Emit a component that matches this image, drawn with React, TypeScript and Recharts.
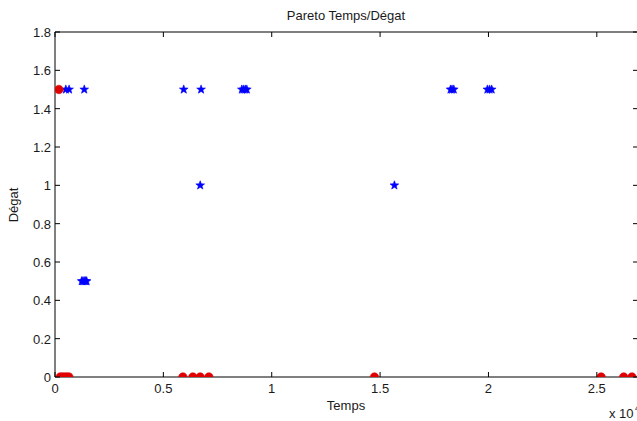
import React from "react";
import { ScatterChart, Scatter, XAxis, YAxis } from "recharts";

const paretoTemps = [0.018, 0.024, 0.034, 0.044, 0.054, 0.064, 0.59, 0.636, 0.67, 0.71, 1.474, 2.52, 2.624, 2.662];
const paretoDegat = [1.5, 0, 0, 0, 0, 0, 0, 0, 0, 0, 0, 0, 0, 0];

const allTemps = [0.05, 0.065, 0.135, 0.594, 0.674, 0.862, 0.87, 0.878, 0.885, 1.825, 1.832, 1.84, 1.995, 2.005, 2.015, 0.67, 1.566, 0.123, 0.129, 0.135, 0.141, 0.146];
const allDegat = [1.5, 1.5, 1.5, 1.5, 1.5, 1.5, 1.5, 1.5, 1.5, 1.5, 1.5, 1.5, 1.5, 1.5, 1.5, 1, 1, 0.5, 0.5, 0.5, 0.5, 0.5];

const xTicks = [0, 0.5, 1, 1.5, 2, 2.5];
const xTickLabels = ["0", "0.5", "1", "1.5", "2", "2.5"];
const yTicks = [0, 0.2, 0.4, 0.6, 0.8, 1, 1.2, 1.4, 1.6, 1.8];
const yTickLabels = ["0", "0.2", "0.4", "0.6", "0.8", "1", "1.2", "1.4", "1.6", "1.8"];

const title = "Pareto Temps/Dégat";
const xLabel = "Temps";
const yLabel = "Dégat";
const xExp = "x 10";
const xExpPow = "4";

const pareto = paretoTemps.map((t, i) => ({ t, d: paretoDegat[i] }));
const all = allTemps.map((t, i) => ({ t, d: allDegat[i] }));

const FONT = "'Liberation Sans', Arial, Helvetica, sans-serif";
const TXT = "#1a1a1a";

const labelFor = (v: number, ticks: number[], labels: string[]) => {
  const i = ticks.findIndex((t) => Math.abs(t - v) < 1e-9);
  return i >= 0 ? labels[i] : String(v);
};

const BottomTick = (p: any) => {
  const { x, y, payload } = p;
  return (
    <g>
      <line x1={x} x2={x} y1={y} y2={y - 5} stroke="#000" strokeWidth={1} />
      <text x={x} y={y + 16} textAnchor="middle" fontSize={13} fontFamily={FONT} fill={TXT}>
        {labelFor(payload.value, xTicks, xTickLabels)}
      </text>
    </g>
  );
};
const TopTick = (p: any) => {
  const { x, y } = p;
  return <line x1={x} x2={x} y1={y} y2={y + 5} stroke="#000" strokeWidth={1} />;
};
const LeftTick = (p: any) => {
  const { x, y, payload } = p;
  return (
    <g>
      <line x1={x} x2={x + 5} y1={y} y2={y} stroke="#000" strokeWidth={1} />
      <text x={x - 4} y={y + 5} textAnchor="end" fontSize={13} fontFamily={FONT} fill={TXT}>
        {labelFor(payload.value, yTicks, yTickLabels)}
      </text>
    </g>
  );
};
const RightTick = (p: any) => {
  const { x, y } = p;
  return <line x1={x - 5} x2={x} y1={y} y2={y} stroke="#000" strokeWidth={1} />;
};

const Dot = (p: any) => {
  const { cx, cy } = p;
  if (cx == null || cy == null) return null;
  return <circle cx={cx} cy={cy} r={4.3} fill="#e00000" stroke="#e00000" strokeWidth={0.5} />;
};
const Star = (p: any) => {
  const { cx, cy } = p;
  if (cx == null || cy == null) return null;
  const pts: string[] = [];
  for (let k = 0; k < 10; k++) {
    const r = k % 2 === 0 ? 4.6 : 1.9;
    const a = -Math.PI / 2 + (k * Math.PI) / 5;
    pts.push(`${cx + r * Math.cos(a)},${cy + r * Math.sin(a)}`);
  }
  return <polygon points={pts.join(" ")} fill="#0000ff" stroke="#0000ff" strokeWidth={0.6} />;
};

export default function App() {
  return (
    <div style={{ position: "fixed", left: 0, top: 0, width: 637, height: 421, overflow: "hidden", background: "#fff" }}>
      <ScatterChart width={660} height={421} margin={{ top: 31, right: 12, bottom: 14, left: 15 }}>
        <XAxis
          dataKey="t"
          type="number"
          domain={[0, 2.69]}
          ticks={xTicks}
          allowDataOverflow
          height={30}
          tickSize={0}
          tickMargin={0}
          tickLine={false}
          axisLine={{ stroke: "#000" }}
          tick={BottomTick}
          interval={0}
        />
        <XAxis
          xAxisId="top"
          orientation="top"
          dataKey="t"
          type="number"
          domain={[0, 2.69]}
          ticks={xTicks}
          allowDataOverflow
          height={1}
          tickSize={0}
          tickMargin={0}
          tickLine={false}
          axisLine={{ stroke: "#000" }}
          tick={TopTick}
          interval={0}
        />
        <YAxis
          dataKey="d"
          type="number"
          domain={[0, 1.8]}
          ticks={yTicks}
          allowDataOverflow
          width={40}
          tickSize={0}
          tickMargin={0}
          tickLine={false}
          axisLine={{ stroke: "#000" }}
          tick={LeftTick}
          interval={0}
        />
        <YAxis
          yAxisId="right"
          orientation="right"
          dataKey="d"
          type="number"
          domain={[0, 1.8]}
          ticks={yTicks}
          allowDataOverflow
          width={10}
          tickSize={0}
          tickMargin={0}
          tickLine={false}
          axisLine={{ stroke: "#000" }}
          tick={RightTick}
          interval={0}
        />
        <Scatter data={all} shape={Star} isAnimationActive={false} />
        <Scatter data={pareto} shape={Dot} isAnimationActive={false} />
      </ScatterChart>
      <svg width={637} height={421} style={{ position: "absolute", left: 0, top: 0, pointerEvents: "none" }}>
        <text x={346} y={20} textAnchor="middle" fontSize={13} fontFamily={FONT} fill={TXT}>{title}</text>
        <text x={346} y={410} textAnchor="middle" fontSize={13} fontFamily={FONT} fill={TXT}>{xLabel}</text>
        <text x={18} y={205} textAnchor="middle" fontSize={13} fontFamily={FONT} fill={TXT} transform="rotate(-90 18 205)">{yLabel}</text>
        <text x={609} y={418} fontSize={13} fontFamily={FONT} fill={TXT}>{xExp}</text>
        <text x={635} y={411} fontSize={9} fontFamily={FONT} fill={TXT}>{xExpPow}</text>
      </svg>
    </div>
  );
}
